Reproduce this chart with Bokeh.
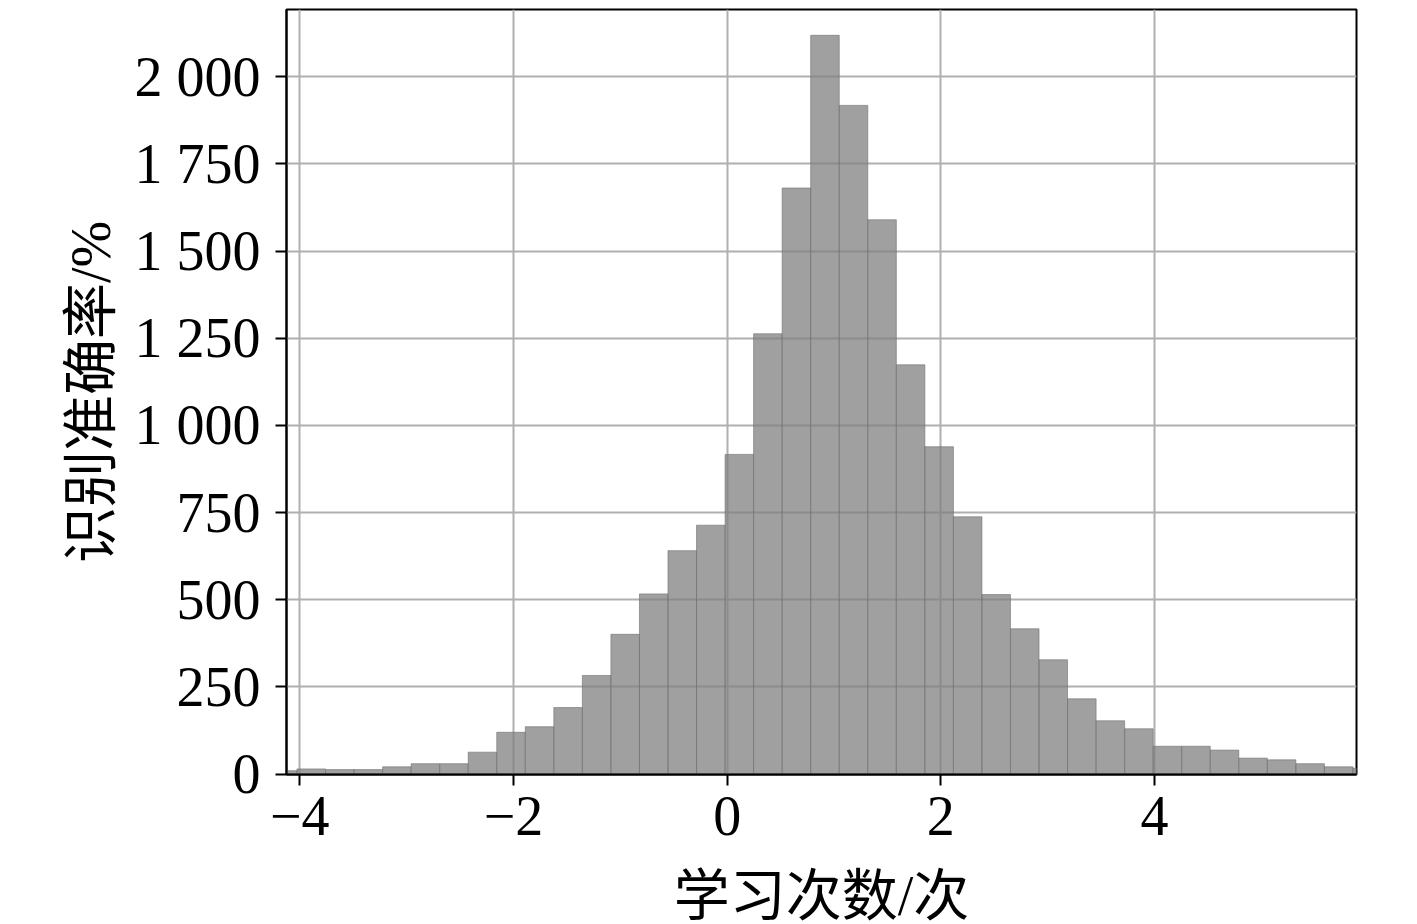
from bokeh.plotting import figure
from bokeh.models import Range1d, FixedTicker
from bokeh.embed import file_html
from bokeh.resources import INLINE

# ---- data ----
bin_start = -4.293
bin_width = 0.2671
counts = [10, 15, 13, 13, 21, 30, 30, 63, 120, 136, 191, 283, 401, 517, 641, 714,
          917, 1263, 1681, 2119, 1918, 1590, 1174, 939, 738, 515, 417, 328, 216,
          153, 130, 80, 80, 69, 46, 41, 30, 21, 17]
x_ticks = [-4, -2, 0, 2, 4]
x_tick_labels = ["\u22124", "\u22122", "0", "2", "4"]
y_ticks = [0, 250, 500, 750, 1000, 1250, 1500, 1750, 2000]
y_tick_labels = ["0", "250", "500", "750", "1 000", "1 250", "1 500", "1 750", "2 000"]
x_label = "学习次数/次"
y_label = "识别准确率/%"

lefts = [bin_start + i * bin_width for i in range(len(counts))]
rights = [l + bin_width for l in lefts]

FONT = "Liberation Serif, Noto Sans CJK SC"

p = figure(output_backend="svg", toolbar_location=None,
           frame_width=1070, frame_height=765,
           min_border_left=286, min_border_top=9, min_border_right=40, min_border_bottom=140,
           x_range=Range1d(-4.124, 5.890), y_range=Range1d(-1, 2193))

p.quad(left=lefts, right=rights, bottom=0, top=counts,
       fill_color="#808080", fill_alpha=0.75,
       line_color="#707070", line_alpha=0.6, line_width=1)

p.xaxis.ticker = FixedTicker(ticks=x_ticks)
p.yaxis.ticker = FixedTicker(ticks=y_ticks)
p.xaxis.major_label_overrides = {t: l for t, l in zip(x_ticks, x_tick_labels)}
p.yaxis.major_label_overrides = {t: l for t, l in zip(y_ticks, y_tick_labels)}

for ax in (p.xaxis[0], p.yaxis[0]):
    ax.axis_line_color = "black"
    ax.axis_line_width = 2
    ax.major_tick_line_color = "black"
    ax.major_tick_line_width = 2
    ax.major_tick_out = 11
    ax.major_tick_in = 0
    ax.minor_tick_line_color = None
    ax.major_label_text_font = FONT
    ax.major_label_text_font_size = "56px"
    ax.major_label_text_color = "black"
    ax.axis_label_text_font = FONT
    ax.axis_label_text_font_size = "56px"
    ax.axis_label_text_font_style = "normal"
    ax.axis_label_text_color = "black"

p.xaxis.axis_label = x_label
p.yaxis.axis_label = y_label
p.xaxis.major_label_standoff = 11
p.xaxis.axis_label_standoff = 27
p.yaxis.major_label_standoff = 15
p.yaxis.axis_label_standoff = 10

p.xgrid.grid_line_color = "#b0b0b0"
p.ygrid.grid_line_color = "#b0b0b0"
p.xgrid.grid_line_width = 2
p.ygrid.grid_line_width = 2

p.outline_line_color = "black"
p.outline_line_width = 2
p.outline_line_alpha = 1
p.background_fill_color = "white"
p.border_fill_color = "white"

open("out.html", "w").write(file_html(p, INLINE))
